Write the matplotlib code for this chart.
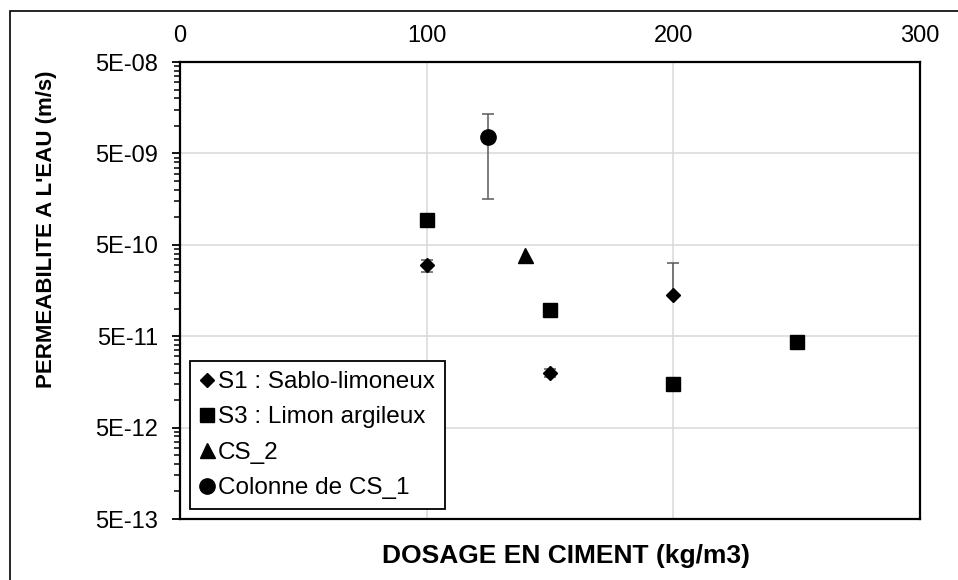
import numpy as np
import matplotlib
matplotlib.use("Agg")
import matplotlib.pyplot as plt
from matplotlib.patches import Rectangle
from matplotlib.lines import Line2D
from matplotlib.ticker import FixedLocator, FuncFormatter, NullFormatter

plt.rcParams['font.family'] = ['Liberation Sans', 'DejaVu Sans']

# donnees
s1_x = [100, 150, 200]
s1_y = [3.0e-10, 2.0e-11, 1.4e-10]
s1_err_lo = [0.45e-10, 0.2e-11, 0.0]   # barre basse hors echelle log a 200
s1_err_hi = [0.45e-10, 0.2e-11, 1.8e-10]

s3_x = [100, 150, 200, 250]
s3_y = [9.3e-10, 9.7e-11, 1.5e-11, 4.35e-11]

cs2_x = [140]
cs2_y = [3.9e-10]

cs1_x = [125]
cs1_y = [7.6e-9]
cs1_err = [6.0e-9]

labels = ["S1 : Sablo-limoneux", "S3 : Limon argileux", "CS_2", "Colonne de CS_1"]
markers = ['D', 's', '^', 'o']
msizes = [7.5, 10.3, 10.8, 11]
x_ticks = [0, 100, 200, 300]
y_exps = [-13, -12, -11, -10, -9, -8]

W, H = 958, 580
fig = plt.figure(figsize=(W / 100, H / 100), dpi=100)
ax = fig.add_axes([180 / W, 1 - 519 / H, 740 / W, 457 / H])

err_kw = dict(ecolor='#595959', elinewidth=1.1, capsize=4.3, capthick=1.1, linestyle='none')
ax.errorbar(s1_x, s1_y, yerr=[s1_err_lo, s1_err_hi], marker=markers[0], ms=msizes[0],
            color='black', zorder=3, **err_kw)
ax.plot(s3_x, s3_y, markers[1], ms=msizes[1], color='black', zorder=3)
ax.plot(cs2_x, cs2_y, markers[2], ms=msizes[2], color='black', zorder=3)
ax.errorbar(cs1_x, cs1_y, yerr=cs1_err, marker=markers[3], ms=msizes[3], color='black',
            zorder=3, **err_kw)

ax.set_yscale('log')
ymaj = [5 * 10.0 ** e for e in y_exps]
ymin = [5 * 10.0 ** e * k for e in y_exps[:-1] for k in range(2, 10)]
ax.set_ylim(ymaj[0], ymaj[-1])
ax.yaxis.set_major_locator(FixedLocator(ymaj))
ax.yaxis.set_minor_locator(FixedLocator(ymin))
ax.yaxis.set_major_formatter(FuncFormatter(lambda v, p: '{:.0E}'.format(v)))
ax.yaxis.set_minor_formatter(NullFormatter())

ax.set_xlim(0, 300)
ax.set_xticks(x_ticks)
ax.xaxis.tick_top()
ax.tick_params(axis='x', length=0, pad=11, labelsize=17)
ax.tick_params(axis='y', which='major', length=5.8, width=1.3, pad=10, labelsize=17, direction='out')
ax.tick_params(axis='y', which='minor', length=4.3, width=1.1, direction='out')

ax.grid(True, which='major', color='#d9d9d9', linewidth=1.1, zorder=0)
ax.set_axisbelow(True)
for sp in ax.spines.values():
    sp.set_color('black')
    sp.set_linewidth(1.6)

handles = [Line2D([], [], linestyle='none', marker=m, ms=s, color='black')
           for m, s in zip(markers, msizes)]
leg = ax.legend(handles, labels, loc='lower left', bbox_to_anchor=(0.0135, 0.022), borderaxespad=0,
                fontsize=17.5, handlelength=0.6, handletextpad=0.15, labelspacing=0.55,
                borderpad=0.4, fancybox=False, framealpha=1, edgecolor='black')
leg.get_frame().set_linewidth(1.3)

fig.text(566 / W, 1 - 556 / H, "DOSAGE EN CIMENT (kg/m3)", ha='center', va='center',
         fontsize=19, fontweight='bold')
fig.text(47 / W, 1 - 229 / H, "PERMEABILITE A L'EAU (m/s)", ha='center', va='center',
         rotation=90, fontsize=16, fontweight='bold')

fig.add_artist(Rectangle((10 / W, -0.1), 1.2, 1.1 - 11 / H, transform=fig.transFigure,
                         fill=False, edgecolor='black', linewidth=1.2, clip_on=False))

fig.savefig('out.png', dpi=100)
